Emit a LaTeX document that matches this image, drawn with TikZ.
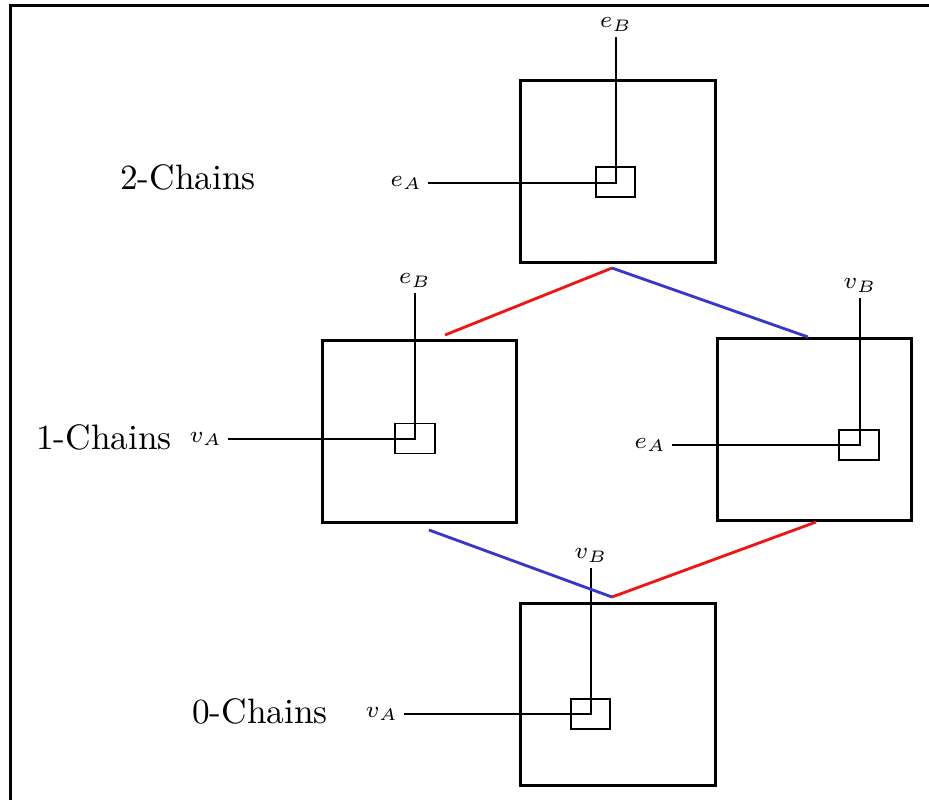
\documentclass[tikz,border=0pt]{standalone}
\usetikzlibrary{calc}
\definecolor{chainred}{RGB}{240,20,20}
\definecolor{chainblue}{RGB}{55,55,205}
\tikzset{
  bigbox/.style={draw, line width=0.9pt, minimum width=58.3pt, minimum height=54.6pt, inner sep=0pt, outer sep=0pt},
  smallbox/.style={draw, line width=0.55pt, minimum width=11.9pt, minimum height=9pt, inner sep=0pt, outer sep=0pt},
  callout/.style={line width=0.55pt},
  lbl/.style={font=\fontsize{7.3}{9}\selectfont, inner sep=1.6pt},
  chainname/.style={font=\fontsize{10.6}{12}\selectfont, inner sep=0pt},
  redlink/.style={chainred, line width=0.85pt},
  bluelink/.style={chainblue, line width=0.85pt},
}
\begin{document}
\begin{tikzpicture}[x=0.3pt, y=-0.3pt]
\clip (0,0) rectangle (929,799);
\useasboundingbox (0,0) rectangle (929,799);
% outer frame, running past the right and bottom edges
\draw[line width=0.9pt] (10,5) rectangle (960,830);

% level names
\node[chainname] (c2) at (188,177) {2-Chains};
\node[chainname] (c1) at (104,437) {1-Chains};
\node[chainname] (c0) at (260,711) {0-Chains};

% chain boxes
\node[bigbox] (boxT) at (618,171) {};
\node[bigbox] (boxL) at (419.5,431.5) {};
\node[bigbox] (boxR) at (814.5,429.5) {};
\node[bigbox] (boxB) at (618,694) {};

% inner squares
\node[smallbox] (sqT) at (615.5,182) {};
\node[smallbox] (sqL) at (415,438.5) {};
\node[smallbox] (sqR) at (859,445) {};
\node[smallbox] (sqB) at (590.5,714) {};

% axis labels
\node[lbl, anchor=south] (eBT) at (616,37) {$e_B$};
\node[lbl, anchor=east]  (eAT) at (428,183) {$e_A$};
\node[lbl, anchor=south] (eBL) at (415,293) {$e_B$};
\node[lbl, anchor=east]  (vAL) at (228,439) {$v_A$};
\node[lbl, anchor=south] (vBR) at (860,298) {$v_B$};
\node[lbl, anchor=east]  (eAR) at (672,445) {$e_A$};
\node[lbl, anchor=south] (vBB) at (591,568) {$v_B$};
\node[lbl, anchor=east]  (vAB) at (404,714) {$v_A$};

% callout lines meeting at each inner square
\draw[callout] (eBT.south) -- (eBT.south |- 0,183) -- (eAT.east);
\draw[callout] (eBL.south) -- (eBL.south |- 0,439) -- (vAL.east);
\draw[callout] (vBR.south) -- (vBR.south |- 0,445) -- (eAR.east);
\draw[callout] (vBB.south) -- (vBB.south |- 0,714) -- (vAB.east);

% boundary links between levels
\coordinate (apexT) at (612,268);
\coordinate (endTL) at (445,335);
\coordinate (endTR) at (808,337);
\coordinate (apexB) at (612,597);
\coordinate (endBL) at (429,530);
\coordinate (endBR) at (816,522);
\draw[redlink]  (endTL) -- (apexT);
\draw[bluelink] (apexT) -- (endTR);
\draw[bluelink] (endBL) -- (apexB);
\draw[redlink]  (apexB) -- (endBR);
\end{tikzpicture}
\end{document}
